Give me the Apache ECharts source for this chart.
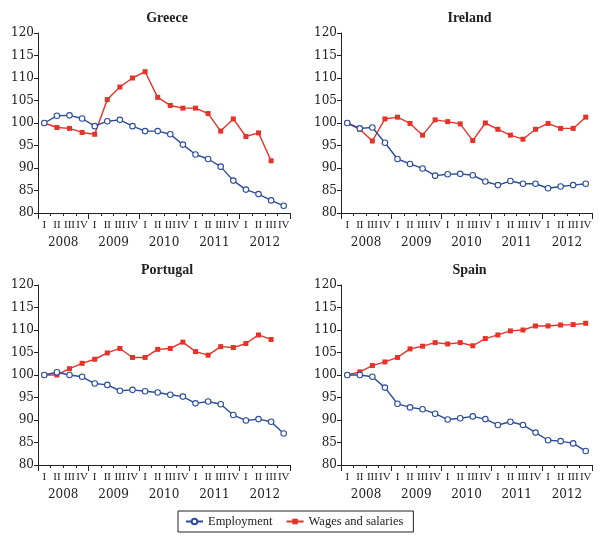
<!DOCTYPE html>
<html>
<head>
<meta charset="utf-8">
<script src="https://cdn.jsdelivr.net/npm/echarts@6/dist/echarts.min.js"></script>
<style>html,body{margin:0;padding:0;background:#fff;}#c{width:600px;height:541px;}</style>
</head>
<body>
<div id="c"></div>
<script>
var quarters = ['I','II','III','IV','I','II','III','IV','I','II','III','IV','I','II','III','IV','I','II','III','IV'];
var years = ['2008','2009','2010','2011','2012'];
var countries = ['Greece','Ireland','Portugal','Spain'];
var seriesNames = ['Employment','Wages and salaries'];

var greeceEmployment = [100,101.6,101.7,101.0,99.3,100.4,100.7,99.3,98.2,98.2,97.5,95.2,93.0,92.0,90.3,87.2,85.2,84.2,82.8,81.6];
var greeceWages = [100,99.0,98.8,97.9,97.5,105.2,108.0,110.0,111.4,105.7,103.9,103.3,103.3,102.1,98.2,100.9,97.0,97.8,91.6];
var irelandEmployment = [100,98.8,99.0,95.6,92.0,90.9,89.9,88.3,88.6,88.7,88.4,87.0,86.2,87.1,86.5,86.5,85.5,85.9,86.2,86.5];
var irelandWages = [100,98.6,96.0,100.9,101.3,99.9,97.3,100.7,100.3,99.8,96.1,100.0,98.6,97.3,96.4,98.6,99.9,98.8,98.8,101.3];
var portugalEmployment = [100,100.6,100.0,99.6,98.1,97.8,96.5,96.7,96.4,96.1,95.6,95.2,93.7,94.1,93.5,91.1,89.9,90.2,89.6,87.0];
var portugalWages = [100,100,101.4,102.6,103.5,104.9,105.9,103.9,103.9,105.7,105.9,107.3,105.2,104.4,106.3,106.1,107.0,108.9,107.9];
var spainEmployment = [100,100,99.6,97.2,93.6,92.8,92.4,91.4,90.1,90.4,90.8,90.2,88.9,89.6,88.9,87.2,85.5,85.3,84.8,83.1];
var spainWages = [100,100.7,102.1,102.9,103.9,105.8,106.4,107.2,106.9,107.2,106.5,108.1,108.9,109.8,110.0,110.9,110.9,111.1,111.2,111.5];

var empData = [greeceEmployment, irelandEmployment, portugalEmployment, spainEmployment];
var wageData = [greeceWages, irelandWages, portugalWages, spainWages];

var FONT = 'DejaVu Serif';
var FONT2 = 'Liberation Serif';
var BLUE = '#2b4c9b';
var RED = '#e5332a';

var gridPos = [
  {left:38, top:33, width:252, height:180},
  {left:341, top:33, width:251, height:180},
  {left:38, top:285, width:252, height:180},
  {left:341, top:285, width:251, height:180}
];

var grids = [], xAxes = [], yAxes = [], series = [], titles = [];
gridPos.forEach(function(g, i){
  grids.push({left:g.left, top:g.top, width:g.width, height:g.height, containLabel:false});
  titles.push({
    text: countries[i],
    left: g.left + g.width/2 - 2,
    top: g.top - 27,
    textAlign: 'center',
    textStyle: {fontFamily: FONT2, fontSize: 14, fontWeight: 'bold', color: '#222'}
  });
  xAxes.push({
    type:'category', gridIndex:i, data:quarters, boundaryGap:true,
    axisLine:{show:true, lineStyle:{color:'#222', width:1}},
    axisTick:{show:true, interval:0, length:3, lineStyle:{color:'#222'}},
    axisLabel:{interval:0, margin:7, fontFamily:FONT2, fontSize:11, color:'#222'},
    splitLine:{show:false}
  });
  xAxes.push({
    type:'category', gridIndex:i, data:years, boundaryGap:true, position:'bottom',
    axisLine:{show:false},
    axisTick:{show:true, interval:0, length:6, lineStyle:{color:'#222'}},
    axisLabel:{interval:0, margin:24, fontFamily:FONT, fontSize:12, color:'#222'},
    splitLine:{show:false}
  });
  yAxes.push({
    type:'value', gridIndex:i, min:80, max:120, interval:5,
    axisLine:{show:true, lineStyle:{color:'#222', width:1}},
    axisTick:{show:true, length:4, lineStyle:{color:'#222'}},
    axisLabel:{margin:4, fontFamily:FONT, fontSize:12, color:'#222'},
    splitLine:{show:false}
  });
  series.push({
    name: seriesNames[1], type:'line', xAxisIndex:i*2, yAxisIndex:i,
    data: wageData[i], symbol:'rect', symbolSize:5, z:2,
    lineStyle:{color:RED, width:1.4}, itemStyle:{color:RED, borderColor:RED, borderWidth:0},
    animation:false
  });
  series.push({
    name: seriesNames[0], type:'line', xAxisIndex:i*2, yAxisIndex:i,
    data: empData[i], symbol:'circle', symbolSize:5.5, z:3,
    lineStyle:{color:BLUE, width:1.4}, itemStyle:{color:'#fff', borderColor:BLUE, borderWidth:1.1},
    animation:false
  });
});

var chart = echarts.init(document.getElementById('c'), null, {renderer:'canvas'});
chart.setOption({
  backgroundColor:'#fff',
  animation:false,
  title: titles,
  grid: grids,
  xAxis: xAxes,
  yAxis: yAxes,
  legend: {
    data:[{name:seriesNames[0], itemStyle:{color:'#fff', borderColor:BLUE}}, {name:seriesNames[1]}],
    left: 178, top: 511,
    borderColor:'#222', borderWidth:1, borderRadius:0,
    padding:[4,10,4,7], itemGap:13, itemWidth:17, itemHeight:7,
    textStyle:{fontFamily:FONT2, fontSize:12.5, color:'#222'}
  },
  series: series
});
</script>
</body>
</html>
